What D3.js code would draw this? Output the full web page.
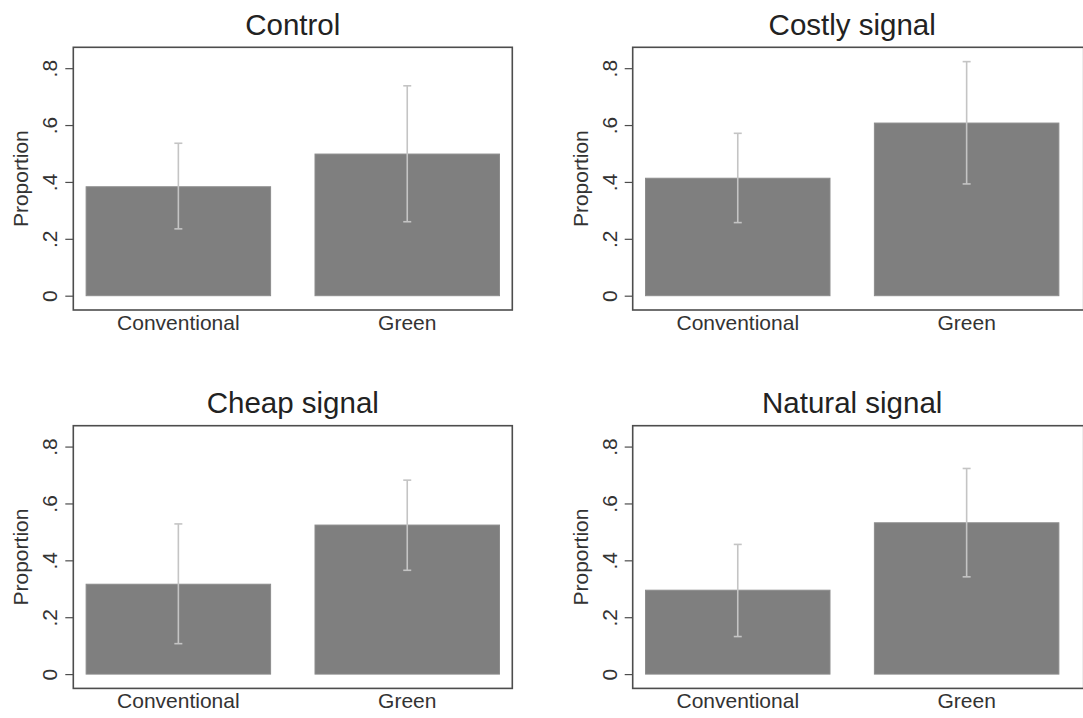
<!DOCTYPE html>
<html>
<head>
<meta charset="utf-8">
<script src="https://cdn.jsdelivr.net/npm/d3@7"></script>
<style>
  html, body { margin: 0; padding: 0; background: #fff; }
  svg { display: block; font-family: "Liberation Sans", Arial, Helvetica, sans-serif; }
</style>
</head>
<body>
<svg id="chart" width="1083" height="718"></svg>
<script>
// ---- data ----
const panelTitles = ["Control", "Costly signal", "Cheap signal", "Natural signal"];
const categories = ["Conventional", "Green"];
const proportions = [
  [0.383, 0.498],
  [0.413, 0.607],
  [0.316, 0.524],
  [0.295, 0.532]
];
const ciLower = [
  [0.235, 0.260],
  [0.257, 0.393],
  [0.107, 0.365],
  [0.132, 0.342]
];
const ciUpper = [
  [0.536, 0.738],
  [0.571, 0.823],
  [0.528, 0.682],
  [0.456, 0.723]
];
const yTicks = [0, 0.2, 0.4, 0.6, 0.8];
const yTickLabels = ["0", ".2", ".4", ".6", ".8"];
const yTitle = "Proportion";

// ---- layout ----
const svg = d3.select("#chart");
const frameW = 439, frameH = 262.7;
const frameWRight = 451;   // right-column frame runs to the picture edge
const colX = [73.3, 632.7];
const rowY = [47.3, 425.7];
const frameColor = "#4d4d4d";
const textColor = "#333333";
const barColor = "#7f7f7f";
const barEdge = "#8c8c8c";
const ciColor = "#c4c4c4";

const x = d3.scaleBand().domain(categories).range([0, frameW]).paddingInner(0.194).paddingOuter(0.056);
const y = d3.scaleLinear().domain([-0.0503, 0.8734]).range([frameH, 0]);

panelTitles.forEach((title, i) => {
  const col = i % 2;
  const ox = colX[col], oy = rowY[Math.floor(i / 2)];
  const g = svg.append("g").attr("transform", `translate(${ox},${oy})`);

  // bars
  g.selectAll("rect.bar").data(categories).join("rect")
    .attr("class", "bar")
    .attr("x", d => x(d))
    .attr("width", x.bandwidth())
    .attr("y", (d, j) => y(proportions[i][j]))
    .attr("height", (d, j) => y(0) - y(proportions[i][j]))
    .attr("fill", barColor)
    .attr("stroke", barEdge)
    .attr("stroke-width", 1);

  // error bars
  const capW = 8;
  const eb = g.selectAll("g.ci").data(categories).join("g").attr("class", "ci")
    .attr("stroke", ciColor).attr("stroke-width", 1.6).attr("fill", "none");
  eb.append("line")
    .attr("x1", d => x(d) + x.bandwidth() / 2).attr("x2", d => x(d) + x.bandwidth() / 2)
    .attr("y1", (d, j) => y(ciLower[i][j])).attr("y2", (d, j) => y(ciUpper[i][j]));
  eb.append("line")
    .attr("x1", d => x(d) + x.bandwidth() / 2 - capW / 2).attr("x2", d => x(d) + x.bandwidth() / 2 + capW / 2)
    .attr("y1", (d, j) => y(ciUpper[i][j])).attr("y2", (d, j) => y(ciUpper[i][j]));
  eb.append("line")
    .attr("x1", d => x(d) + x.bandwidth() / 2 - capW / 2).attr("x2", d => x(d) + x.bandwidth() / 2 + capW / 2)
    .attr("y1", (d, j) => y(ciLower[i][j])).attr("y2", (d, j) => y(ciLower[i][j]));

  // frame
  g.append("rect").attr("x", 0).attr("y", 0)
    .attr("width", col === 0 ? frameW : frameWRight).attr("height", frameH)
    .attr("fill", "none").attr("stroke", frameColor).attr("stroke-width", 1.6);

  // y axis
  const yAxis = d3.axisLeft(y).tickValues(yTicks).tickFormat((d, k) => yTickLabels[k])
    .tickSize(8).tickPadding(8);
  const ya = g.append("g").call(yAxis);
  ya.select(".domain").remove();
  ya.selectAll(".tick line").attr("stroke", frameColor).attr("stroke-width", 1.2);
  ya.selectAll(".tick text")
    .attr("fill", textColor).attr("font-size", 21)
    .attr("transform", "rotate(-90)")
    .attr("x", 0).attr("y", -16)
    .attr("dy", 0)
    .attr("text-anchor", "middle");

  // x axis labels
  const xAxis = d3.axisBottom(x).tickSize(0).tickPadding(5);
  const xa = g.append("g").attr("transform", `translate(0,${frameH})`).call(xAxis);
  xa.select(".domain").remove();
  xa.selectAll(".tick text").attr("fill", textColor).attr("font-size", 21).attr("dy", "0.71em");

  // y title
  g.append("text")
    .attr("transform", `translate(${-45},${frameH / 2}) rotate(-90)`)
    .attr("text-anchor", "middle")
    .attr("fill", textColor).attr("font-size", 21)
    .text(yTitle);

  // panel title
  g.append("text")
    .attr("x", frameW / 2).attr("y", -12.5)
    .attr("text-anchor", "middle")
    .attr("fill", "#222").attr("font-size", 29.5)
    .text(title);
});
</script>
</body>
</html>
